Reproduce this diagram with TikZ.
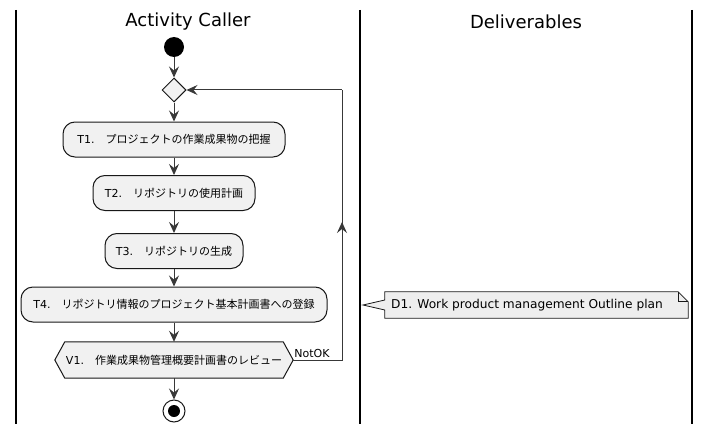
\documentclass[tikz,border=0pt]{standalone}
\usepackage{fontspec}
\setmainfont{DejaVu Sans}
\newfontfamily\cjk{Noto Sans CJK JP}
\usetikzlibrary{arrows.meta,shapes.geometric}
\definecolor{ln}{HTML}{181818}
\definecolor{bx}{HTML}{F1F1F1}
\definecolor{ar}{HTML}{383838}
\definecolor{notebg}{HTML}{EEEEEE}
\begin{document}
\begin{tikzpicture}[x=1pt,y=-1pt,
  act/.style={draw=ln, fill=bx, rounded corners=12pt, line width=1pt,
    minimum height=35pt, inner sep=0pt, font=\fontsize{11}{13}\selectfont},
  hexlabel/.style={inner sep=0pt, minimum height=36pt, font=\fontsize{11}{13}\selectfont},
  flow/.style={draw=ar, line width=1pt, -{Stealth[length=11pt,width=10pt,inset=4pt]}},
  plainflow/.style={draw=ar, line width=1pt},
  lane/.style={line width=1.8pt, black},
  lanetitle/.style={font=\fontsize{18}{21}\selectfont},
  notebody/.style={inner sep=0pt, minimum width=303pt, minimum height=26pt},
  notetext/.style={inner sep=0pt, font=\fontsize{12.2}{14}\selectfont}]
\useasboundingbox (0,0) rectangle (711,433);
% swimlanes
\draw[lane] (16,10) -- (16,424);
\draw[lane] (360,10) -- (360,424);
\draw[lane] (692,10) -- (692,424);
\node[lanetitle] (t1) at (188,22) {Activity Caller};
\node[lanetitle] (t2) at (526,22) {Deliverables};
% nodes
\node[circle, fill=black, minimum size=20pt, inner sep=0pt] (start) at (174,47) {};
\node[diamond, draw=ln, fill=bx, line width=1pt, minimum size=24pt, inner sep=0pt] (dia) at (174,90) {};
\node[act, minimum width=222pt] (a1) at (174,139.5) {T1.{\cjk　プロジェクトの作業成果物の把握}};
\node[act, minimum width=162pt] (a2) at (174,193) {T2.{\cjk　リポジトリの使用計画}};
\node[act, minimum width=138pt] (a3) at (174,251) {T3.{\cjk　リポジトリの生成}};
\node[act, minimum width=306pt] (a4) at (174,304.5) {T4.{\cjk　リポジトリ情報のプロジェクト基本計画書への登録}};
\node[hexlabel, minimum width=238pt] (v1) at (174,360) {V1.{\cjk　作業成果物管理概要計画書のレビュー}};
\draw[draw=ln, fill=bx, line width=1pt]
  (v1.west) -- ([xshift=10pt]v1.north west) -- ([xshift=-10pt]v1.north east)
  -- (v1.east) -- ([xshift=-10pt]v1.south east) -- ([xshift=10pt]v1.south west) -- cycle;
\node[hexlabel, minimum width=238pt] at (v1) {V1.{\cjk　作業成果物管理概要計画書のレビュー}};
\node[circle, draw=ln, fill=white, line width=1pt, minimum size=22pt, inner sep=0pt] (stop) at (174,411) {};
\fill[black] (stop.center) circle (6pt);
% flows
\draw[flow] (start) -- (dia);
\draw[flow] (dia) -- (a1);
\draw[flow] (a1) -- (a2);
\draw[flow] (a2) -- (a3);
\draw[flow] (a3) -- (a4);
\draw[flow] (a4) -- (v1.north);
\draw[flow] (v1.south) -- (stop);
% loop back
\coordinate (lb) at (342,360);
\coordinate (lm) at (342,222);
\coordinate (lt) at (342,90);
\draw[plainflow] (v1.east) -- (lb) -- (lt);
\draw[flow] (lt) -- (dia.east);
\draw[flow] (lb) -- (lm);
\node[anchor=south west, inner sep=1pt, font=\fontsize{11}{13}\selectfont] (nok) at ([yshift=1pt]v1.east) {NotOK};
% note
\node[notebody] (d1) at (536.5,305) {};
\coordinate (tip) at (363,305);
\draw[draw=ln, fill=notebg, line width=0.8pt]
  (d1.north west) -- ([xshift=-10pt]d1.north east) -- ([yshift=-10pt]d1.north east)
  -- (d1.south east) -- (d1.south west) -- ([yshift=-5pt]d1.west) -- (tip)
  -- ([yshift=5pt]d1.west) -- cycle;
\draw[draw=ln, line width=0.8pt] ([xshift=-10pt]d1.north east) -- ([xshift=-10pt,yshift=-10pt]d1.north east) -- ([yshift=-10pt]d1.north east);
\node[notetext, anchor=west] (d1t) at (391,305) {D1. Work product management Outline plan};
\end{tikzpicture}
\end{document}
